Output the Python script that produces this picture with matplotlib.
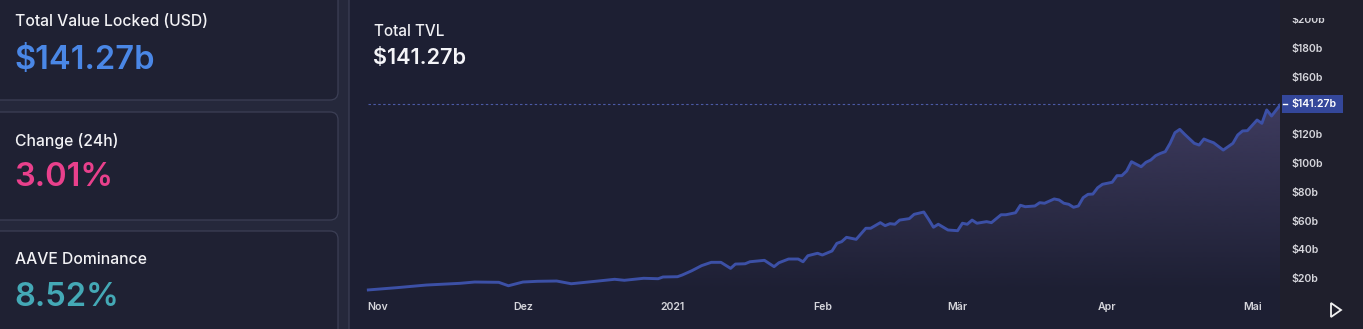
import numpy as np
import matplotlib
matplotlib.use("Agg")
import matplotlib.pyplot as plt
import matplotlib.dates as mdates
from matplotlib.patches import FancyBboxPatch, Rectangle, Polygon
from matplotlib.lines import Line2D

plt.rcParams['font.family'] = ['Inter', 'DejaVu Sans']

# ---------------- data ----------------
dates = [
    '2020-10-30', '2020-11-05', '2020-11-11', '2020-11-18', '2020-11-21', '2020-11-26',
    '2020-11-28', '2020-12-01', '2020-12-04', '2020-12-08', '2020-12-11', '2020-12-16',
    '2020-12-20', '2020-12-22', '2020-12-26', '2020-12-29', '2020-12-30', '2021-01-02',
    '2021-01-03', '2021-01-05', '2021-01-07', '2021-01-09', '2021-01-11', '2021-01-13',
    '2021-01-14', '2021-01-16', '2021-01-17', '2021-01-20', '2021-01-22', '2021-01-23',
    '2021-01-25', '2021-01-27', '2021-01-28', '2021-01-29', '2021-01-31', '2021-02-01',
    '2021-02-03', '2021-02-04', '2021-02-05', '2021-02-06', '2021-02-08', '2021-02-10',
    '2021-02-11', '2021-02-13', '2021-02-14', '2021-02-15', '2021-02-16', '2021-02-17',
    '2021-02-19', '2021-02-20', '2021-02-22', '2021-02-23', '2021-02-24', '2021-02-25',
    '2021-02-27', '2021-03-01', '2021-03-02', '2021-03-03', '2021-03-04', '2021-03-05',
    '2021-03-07', '2021-03-08', '2021-03-10', '2021-03-11', '2021-03-13', '2021-03-14',
    '2021-03-15', '2021-03-17', '2021-03-18', '2021-03-19', '2021-03-21', '2021-03-22',
    '2021-03-23', '2021-03-24', '2021-03-25', '2021-03-26', '2021-03-27', '2021-03-28',
    '2021-03-29', '2021-03-30', '2021-03-31', '2021-04-02', '2021-04-03', '2021-04-04',
    '2021-04-05', '2021-04-06', '2021-04-08', '2021-04-09', '2021-04-10', '2021-04-11',
    '2021-04-12', '2021-04-13', '2021-04-14', '2021-04-15', '2021-04-16', '2021-04-17',
    '2021-04-19', '2021-04-20', '2021-04-21', '2021-04-22', '2021-04-23', '2021-04-25',
    '2021-04-27', '2021-04-28', '2021-04-29', '2021-04-30', '2021-05-02', '2021-05-03',
    '2021-05-04', '2021-05-05', '2021-05-07',
]
tvl_billions = [
    11.7, 13.3, 15.1, 16.3, 17.2, 17.0,
    14.6, 17.2, 17.7, 17.9, 16.0, 17.7,
    19.1, 18.4, 19.8, 19.5, 20.7, 20.9,
    22.1, 25.1, 28.6, 30.9, 30.9, 26.7,
    29.7, 29.9, 31.3, 32.3, 27.9, 30.6,
    33.2, 33.2, 31.3, 35.5, 37.2, 36.0,
    38.8, 44.1, 45.3, 48.3, 46.9, 54.6,
    54.6, 58.5, 56.4, 57.8, 57.4, 60.3,
    61.3, 64.3, 65.9, 60.8, 55.3, 57.4,
    53.4, 52.9, 58.1, 57.4, 60.3, 58.1,
    59.2, 58.5, 64.0, 64.0, 65.4, 70.6,
    69.6, 70.1, 72.4, 72.0, 75.0, 74.3,
    72.0, 71.3, 69.2, 70.1, 75.9, 78.2,
    78.4, 82.8, 85.2, 86.6, 91.2, 91.2,
    94.4, 100.9, 97.4, 100.5, 102.1, 105.1,
    106.7, 107.9, 113.7, 121.1, 123.4, 120.0,
    113.7, 112.5, 116.7, 115.3, 114.1, 109.0,
    113.7, 119.5, 122.3, 122.5, 129.9, 127.6,
    136.9, 132.7, 141.27,
]
current_tvl = 141.27
# the $140b tick is hidden behind the current-value label in the reference
y_ticks = [20, 40, 60, 80, 100, 120, 160, 180, 200]
x_tick_dates = ['2020-11-01', '2020-12-01', '2021-01-01', '2021-02-01',
                '2021-03-01', '2021-04-01', '2021-05-01']
x_tick_labels = ['Nov', 'Dez', '2021', 'Feb', 'Mär', 'Apr', 'Mai']
stat_titles = ['Total Value Locked (USD)', 'Change (24h)', 'AAVE Dominance']
stat_values = ['$141.27b', '3.01%', '8.52%']
stat_colors = ['#4a87e6', '#e9408c', '#44a9b6']
chart_title = 'Total TVL'
chart_value = '$141.27b'

# ---------------- layout ----------------
W, H = 1363, 329
fig = plt.figure(figsize=(W / 100, H / 100), dpi=100)
PAGE = '#25283b'
CARD = '#1f2133'
MAIN = '#1d1f33'
PRICE_BG = '#1f1f2c'
BORDER = '#3c3f55'
fig.patch.set_facecolor(PAGE)


def px_axes(x0, y0, x1, y1):
    return fig.add_axes([x0 / W, 1 - y1 / H, (x1 - x0) / W, (y1 - y0) / H])


bg = px_axes(0, 0, W, H)
bg.set_xlim(0, W)
bg.set_ylim(H, 0)
bg.axis('off')

# stat cards
card_boxes = [(-20, -20, 338, 100), (-20, 112, 338, 220), (-20, 231, 338, 360)]
for (x0, y0, x1, y1) in card_boxes:
    bg.add_patch(FancyBboxPatch((x0, y0), x1 - x0, y1 - y0,
                                boxstyle='round,pad=0,rounding_size=8',
                                fc=CARD, ec=BORDER, lw=0.9))
# main card
bg.add_patch(FancyBboxPatch((349, -20), W + 40 - 349, H + 40,
                            boxstyle='round,pad=0,rounding_size=8',
                            fc=MAIN, ec=BORDER, lw=0.9))
bg.add_patch(Rectangle((1280, 0), W - 1280, H, fc=PRICE_BG, ec='none'))

title_y = [22, 141, 260]
value_y = [60, 178, 297]
for t, v, c, ty, vy in zip(stat_titles, stat_values, stat_colors, title_y, value_y):
    bg.text(15, ty, t, color='#f2f2f5', fontsize=11.3, weight='medium',
            va='center', ha='left')
    bg.text(14, vy, v, color=c, fontsize=23.5, weight='semibold',
            va='center', ha='left')

bg.text(374, 32, chart_title, color='#f0f0f4', fontsize=11, weight='medium',
        va='center', ha='left')
bg.text(373, 58, chart_value, color='#f4f4f8', fontsize=15.6, weight='semibold',
        va='center', ha='left')

# play triangle
bg.add_patch(Polygon([(1331, 303), (1331, 317), (1341, 310)], closed=True,
                     fc='none', ec='#f0f0f0', lw=1.3))

# ---------------- chart ----------------
ax = px_axes(351, 0, 1280, 292)
ax.set_facecolor('none')
for s in ax.spines.values():
    s.set_visible(False)

d = np.array(dates, dtype='datetime64[D]')
xn = mdates.date2num(d)
vals = np.array(tvl_billions)
ref = mdates.date2num(np.datetime64('2020-11-01'))
px_per_day = 4.83
x_left = ref - (378 - 351) / px_per_day
x_right = ref + (1280 - 378) / px_per_day
ax.set_xlim(x_left, x_right)
y_lo, y_hi = (306.75 - 292) / 1.4375, 306.75 / 1.4375
ax.set_ylim(y_lo, y_hi)

# gradient fill under the curve
poly = ax.fill_between(xn, vals, y_lo, color='none', lw=0)
grad_n = 256
alpha = np.clip(np.linspace(0.95, 0.0, grad_n), 0, 1)
img = np.zeros((grad_n, 1, 4))
img[:, 0, 0] = 72 / 255
img[:, 0, 1] = 68 / 255
img[:, 0, 2] = 108 / 255
img[:, 0, 3] = alpha
im = ax.imshow(img, extent=[x_left, x_right, y_lo, 170], aspect='auto',
               origin='upper', zorder=1, interpolation='bilinear')
im.set_clip_path(poly.get_paths()[0], transform=ax.transData)

ax.plot(xn, vals, color='#3c50a6', lw=2.1, zorder=3, solid_joinstyle='round')
ax.hlines(current_tvl, xn[0], x_right, colors='#4c5aa6', lw=0.8,
          linestyles=(0, (2.2, 2.2)), zorder=2)

ax.yaxis.tick_right()
ax.set_yticks(y_ticks)
ax.set_yticklabels([f'${v}b' for v in y_ticks])
ax.tick_params(axis='y', length=0, pad=8, labelsize=7.6, labelcolor='#d6d6dc')
for lbl in ax.get_yticklabels():
    lbl.set_fontweight('semibold')

ax.set_xticks(mdates.date2num(np.array(x_tick_dates, dtype='datetime64[D]')))
ax.set_xticklabels(x_tick_labels)
ax.tick_params(axis='x', length=0, pad=7, labelsize=7.6, labelcolor='#d6d6dc')
for lbl in ax.get_xticklabels():
    lbl.set_fontweight('semibold')

# current value marker on the price scale
fig.canvas.draw()
ydisp = ax.transData.transform((0, current_tvl))[1]
ypx = H - ydisp
fig.patches.append(Rectangle((1282 / W, 1 - (ypx + 9) / H), 61 / W, 18 / H,
                             transform=fig.transFigure, fc='#34479a', ec='none',
                             zorder=5))
fig.lines.append(Line2D([1283 / W, 1287 / W], [1 - ypx / H, 1 - ypx / H],
                        transform=fig.transFigure, color='white', lw=1.0,
                        zorder=6))
fig.text(1291 / W, 1 - ypx / H, f'${current_tvl:.2f}b', color='white',
         fontsize=7.6, weight='semibold', va='center', ha='left', zorder=7)
# clip the topmost tick label like the reference container does
fig.patches.append(Rectangle((1282 / W, 1 - 17.5 / H), (W - 1282) / W, 17.5 / H,
                             transform=fig.transFigure, fc=PRICE_BG, ec='none',
                             zorder=5))

fig.savefig('out.png', dpi=100, facecolor=fig.get_facecolor())
